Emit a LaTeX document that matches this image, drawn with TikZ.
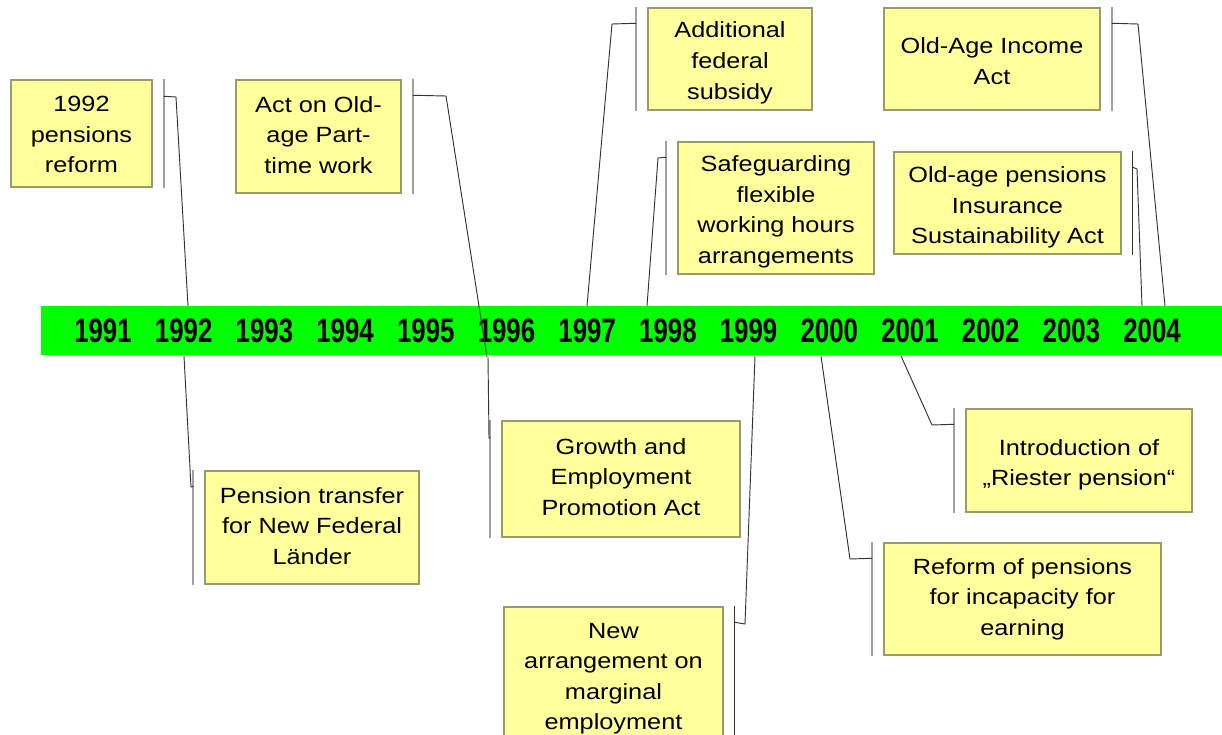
\documentclass[tikz,border=0pt]{standalone}
\usepackage{fontspec}
\setmainfont{Liberation Sans}[FakeStretch=1.15]
\newfontfamily\yearfont{Liberation Sans}[FakeStretch=0.76]
\usetikzlibrary{calc}
\definecolor{boxfill}{HTML}{FFFF9C}
\definecolor{boxline}{HTML}{9A9A6A}
\definecolor{barfill}{HTML}{00FF00}
\definecolor{leadcol}{HTML}{333333}
\definecolor{brkcol}{HTML}{A0A0A0}
% push text block down by #1 px (top strut)
\newcommand\tdn[1]{\rule{0pt}{\dimexpr 12pt + #1pt * 9 / 8\relax}}
% push text block up by #1 px (bottom strut)
\newcommand\tup[1]{\rule[-\dimexpr #1pt * 9 / 8\relax]{0pt}{0pt}}
\tikzset{
  evbox/.style 2 args={draw=boxline, fill=boxfill, line width=1.1pt, align=center,
    inner sep=0pt, minimum width=#1*0.75pt, minimum height=#2*0.75pt,
    font=\fontsize{16.5}{22.9}\selectfont},
  lead/.style={draw=leadcol, line width=0.7pt},
  brk/.style={draw=brkcol, line width=1.4pt},
  brkdark/.style={draw=leadcol, line width=1pt},
  yearlbl/.style={font=\yearfont\bfseries\fontsize{25.5}{28}\selectfont, inner sep=0pt}
}
\begin{document}
\begin{tikzpicture}[x=0.75pt,y=-0.75pt]
\useasboundingbox (0,0) rectangle (1222,735);
\fill[white] (0,0) rectangle (1222,735);
\clip (0,0) rectangle (1222,735);

% timeline bar
\node[fill=barfill, inner sep=0pt, minimum width=1181*0.75pt, minimum height=49*0.75pt] (bar) at (631.5,330.5) {};
\foreach \yr [count=\i from 0] in {1991,...,2004} {
  \node[yearlbl] (y\yr) at ({103+80.7*\i},331) {\yr};
}

% boxes
\node[evbox={141}{107}] (b1) at (81.5,133.5) {\tdn{1}1992\\pensions\\reform};
\node[evbox={214}{113}] (b2) at (312,527.5) {Pension transfer\\for New Federal\\Länder\tup{2}};
\node[evbox={165}{113}] (b3) at (318.5,136.5) {Act on Old-\\age Part-\\time work\tup{2}};
\node[evbox={238}{116}] (b4) at (621,479) {Growth and\\Employment\\Promotion Act\tup{3}};
\node[evbox={164}{102}] (b5) at (730,59) {\tdn{5}Additional\\federal\\subsidy};
\node[evbox={196}{132}] (b6) at (776,208) {\tdn{5}Safeguarding\\flexible\\working hours\\arrangements};
\node[evbox={216}{102}] (b7) at (992,59) {\tdn{3}Old-Age Income\\Act};
\node[evbox={227}{102}] (b8) at (1007.5,203) {\tdn{6}Old-age pensions\\Insurance\\Sustainability Act};
\node[evbox={219}{138}] (b9) at (613.5,676) {\tdn{3}New\\arrangement on\\marginal\\employment};
\node[evbox={226}{103}] (b10) at (1079,460.5) {\tdn{6}Introduction of\\„Riester pension“};
\node[evbox={277}{112}] (b11) at (1022.5,599) {Reform of pensions\\for incapacity for\\earning};

% brackets (right side of box)
\foreach \b in {b1,b3,b7} {
  \draw[brk] ($(\b.north east)+(11,0)$) -- ($(\b.south east)+(11,0)$);
}
\foreach \b in {b8,b9} {
  \draw[brkdark] ($(\b.north east)+(11,0)$) -- ($(\b.south east)+(11,0)$);
}
% brackets (left side of box)
\foreach \b in {b2,b4,b5,b6,b10,b11} {
  \draw[brk] ($(\b.north west)+(-11,0)$) -- ($(\b.south west)+(-11,0)$);
}

% anchor points on brackets
\coordinate (b1a) at ($(b1.north east)+(11,17)$);
\coordinate (b3a) at ($(b3.north east)+(11,16)$);
\coordinate (b7a) at ($(b7.north east)+(11,16)$);
\coordinate (b8a) at ($(b8.north east)+(11,16)$);
\coordinate (b9a) at ($(b9.north east)+(11,16)$);
\coordinate (b2a) at ($(b2.north west)+(-11,16)$);
\coordinate (b4a) at ($(b4.north west)+(-11,17)$);
\coordinate (b5a) at ($(b5.north west)+(-11,16)$);
\coordinate (b6a) at ($(b6.north west)+(-11,16)$);
\coordinate (b10a) at ($(b10.north west)+(-11,16)$);
\coordinate (b11a) at ($(b11.north west)+(-11,16)$);

% elbows
\coordinate (b1e) at (176,97);
\coordinate (b3e) at (446,96);
\coordinate (b7e) at (1138,24);
\coordinate (b8e) at (1137,169);
\coordinate (b9e) at (745,624);
\coordinate (b2e) at (191,487);
\coordinate (b4e) at (489,438);
\coordinate (b5e) at (612,24);
\coordinate (b6e) at (658,158);
\coordinate (b10e) at (932,425);
\coordinate (b11e) at (850,559);

% points on the bar
\coordinate (t1) at (188,306);
\coordinate (t3) at (487,357);
\coordinate (t5) at (587,306);
\coordinate (t6) at (647,306);
\coordinate (t7) at (1165,306);
\coordinate (t8) at (1142,306);
\coordinate (u2) at (184,356);
\coordinate (u4) at (488,357);
\coordinate (u9) at (755,356);
\coordinate (u10) at (901,356);
\coordinate (u11) at (821,356);

% leaders
\draw[lead] (b1a) -- (b1e) -- (t1);
\draw[lead] (b3a) -- (b3e) -- (t3);
\draw[lead] (b5a) -- (b5e) -- (t5);
\draw[lead] (b6a) -- (b6e) -- (t6);
\draw[lead] (b7a) -- (b7e) -- (t7);
\draw[lead] (b8a) -- (b8e) -- (t8);
\draw[lead] (u2) -- (b2e) -- (b2a);
\draw[lead] (u4) -- (b4e) -- (b4a);
\draw[lead] (u9) -- (b9e) -- (b9a);
\draw[lead] (u10) -- (b10e) -- (b10a);
\draw[lead] (u11) -- (b11e) -- (b11a);
\end{tikzpicture}
\end{document}
